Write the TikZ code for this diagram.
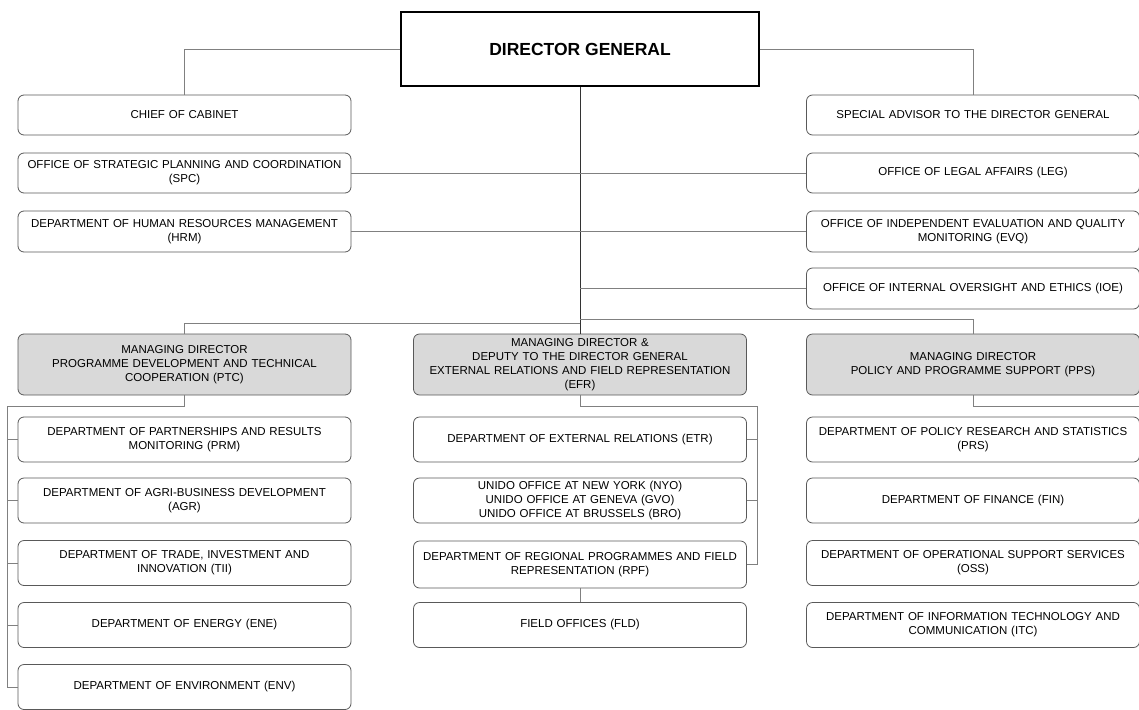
\documentclass[tikz,border=0pt]{standalone}
\usepackage{fontspec}
\setmainfont{Liberation Sans}
\usetikzlibrary{positioning,calc}

\begin{document}
\begin{tikzpicture}[
        x=1pt, y=-1pt,
        unit_box/.style={
            rectangle,
            draw=black!65,
            fill=white,
            line width=0.8pt,
            rounded corners=6pt,
            minimum width=333pt,
            minimum height=45pt,
            text width=330pt,
            inner sep=1.5pt,
            align=center,
            font=\fontsize{11.5}{14}\selectfont
        },
        staff_box/.style={unit_box, minimum height=40pt},
        md_box/.style={unit_box, fill=black!15, minimum height=61pt},
        dg_box/.style={
            rectangle,
            draw=black,
            fill=white,
            line width=1.5pt,
            minimum width=358pt,
            minimum height=74pt,
            font=\fontsize{17.5}{20}\selectfont\bfseries
        },
        link/.style={draw=black!50, line width=0.8pt},
        trunk/.style={draw=black!80, line width=1pt}
    ]

    % Frame
    \useasboundingbox[fill=white] (0,0) rectangle (1139,709);

    % =================================================
    % DIRECTOR GENERAL AND STAFF OFFICES
    % =================================================

    \node[dg_box] (DG) at (580, 49) {DIRECTOR GENERAL};

    % Left staff column
    \node[staff_box] (Off_CoC) at (184.5, 115) {CHIEF OF CABINET};
    \node[staff_box] (Off_SPC) at (184.5, 173) {OFFICE OF STRATEGIC PLANNING AND COORDINATION\\(SPC)};
    \node[staff_box, minimum height=41pt] (Dep_HRM) at (184.5, 231.5) {DEPARTMENT OF HUMAN RESOURCES MANAGEMENT\\(HRM)};

    % Right staff column
    \node[staff_box, minimum width=330pt] (Off_SA) at (973, 115) {SPECIAL ADVISOR TO THE DIRECTOR GENERAL};
    \node[staff_box, minimum width=330pt] (Off_LEG) at (973, 173) {OFFICE OF LEGAL AFFAIRS (LEG)};
    \node[staff_box, minimum width=330pt, minimum height=41pt] (Off_EVQ) at (973, 231.5) {OFFICE OF INDEPENDENT EVALUATION AND QUALITY\\MONITORING (EVQ)};
    \node[staff_box, minimum width=330pt, minimum height=41pt] (Off_IOE) at (973, 288.5) {OFFICE OF INTERNAL OVERSIGHT AND ETHICS (IOE)};

    % =================================================
    % MANAGING DIRECTORS
    % =================================================

    \node[md_box] (MD_PTC) at (184.5, 364.5) {MANAGING DIRECTOR\\PROGRAMME DEVELOPMENT AND TECHNICAL\\COOPERATION (PTC)};
    \node[md_box] (MD_EFR) at (580, 364.5) {MANAGING DIRECTOR \&\\DEPUTY TO THE DIRECTOR GENERAL\\EXTERNAL RELATIONS AND FIELD REPRESENTATION\\(EFR)};
    \node[md_box, minimum width=330pt] (MD_PPS) at (973, 364.5) {MANAGING DIRECTOR\\POLICY AND PROGRAMME SUPPORT (PPS)};

    % =================================================
    % DEPARTMENTS
    % =================================================

    % PTC branch
    \node[unit_box] (Dep_PRM) at (184.5, 439.5) {DEPARTMENT OF PARTNERSHIPS AND RESULTS\\MONITORING (PRM)};
    \node[unit_box] (Dep_AGR) at (184.5, 500.5) {DEPARTMENT OF AGRI-BUSINESS DEVELOPMENT\\(AGR)};
    \node[unit_box] (Dep_TII) at (184.5, 563) {DEPARTMENT OF TRADE, INVESTMENT AND\\INNOVATION (TII)};
    \node[unit_box] (Dep_ENE) at (184.5, 625) {DEPARTMENT OF ENERGY (ENE)};
    \node[unit_box] (Dep_ENV) at (184.5, 687) {DEPARTMENT OF ENVIRONMENT (ENV)};

    % EFR branch
    \node[unit_box] (Dep_ETR) at (580, 439.5) {DEPARTMENT OF EXTERNAL RELATIONS (ETR)};
    \node[unit_box] (Off_NYO) at (580, 500.5) {UNIDO OFFICE AT NEW YORK (NYO)\\UNIDO OFFICE AT GENEVA (GVO)\\UNIDO OFFICE AT BRUSSELS (BRO)};
    \node[unit_box, minimum height=47pt] (Dep_RPF) at (580, 564.5) {DEPARTMENT OF REGIONAL PROGRAMMES AND FIELD\\REPRESENTATION (RPF)};
    \node[unit_box] (Off_FLD) at (580, 625) {FIELD OFFICES (FLD)};

    % PPS branch
    \node[unit_box, minimum width=330pt] (Dep_PRS) at (973, 439.5) {DEPARTMENT OF POLICY RESEARCH AND STATISTICS\\(PRS)};
    \node[unit_box, minimum width=330pt] (Dep_FIN) at (973, 500.5) {DEPARTMENT OF FINANCE (FIN)};
    \node[unit_box, minimum width=330pt] (Dep_OSS) at (973, 563) {DEPARTMENT OF OPERATIONAL SUPPORT SERVICES\\(OSS)};
    \node[unit_box, minimum width=330pt] (Dep_ITC) at (973, 625) {DEPARTMENT OF INFORMATION TECHNOLOGY AND\\COMMUNICATION (ITC)};

    % =================================================
    % CONNECTORS
    % =================================================

    \coordinate (Bus_L) at (580, 323);
    \coordinate (Bus_R) at (580, 319);
    \coordinate (PTC_Rail) at (7, 406);
    \coordinate (EFR_Rail) at (757, 406);
    \coordinate (PPS_Rail) at (1139, 406);

    % Trunk from the Director General
    \draw[trunk] (DG.south) -- (MD_EFR.north);

    % Staff offices
    \draw[link] (DG.west) -| (Off_CoC.north);
    \draw[link] (DG.east) -| (Off_SA.north);
    \draw[link] (Off_SPC.east) -- (Off_LEG.west);
    \draw[link] (Dep_HRM.east) -- (Off_EVQ.west);
    \draw[link] (Off_IOE.west) -- (Off_IOE.west -| DG.south);

    % Managing directors
    \draw[link] (MD_PTC.north) |- (Bus_L);
    \draw[link] (Bus_R) -| (MD_PPS.north);

    % PTC departments
    \draw[link] (MD_PTC.south) |- (PTC_Rail) |- (Dep_ENV.west);
    \foreach \dep in {Dep_PRM, Dep_AGR, Dep_TII, Dep_ENE}
        \draw[link] (\dep.west -| PTC_Rail) -- (\dep.west);

    % EFR departments
    \draw[link] (MD_EFR.south) |- (EFR_Rail) |- (Dep_RPF.east);
    \foreach \dep in {Dep_ETR, Off_NYO}
        \draw[link] (\dep.east -| EFR_Rail) -- (\dep.east);
    \draw[link] (Dep_RPF.south) -- (Off_FLD.north);

    % PPS departments
    \draw[link] (MD_PPS.south) |- (PPS_Rail);

\end{tikzpicture}
\end{document}
